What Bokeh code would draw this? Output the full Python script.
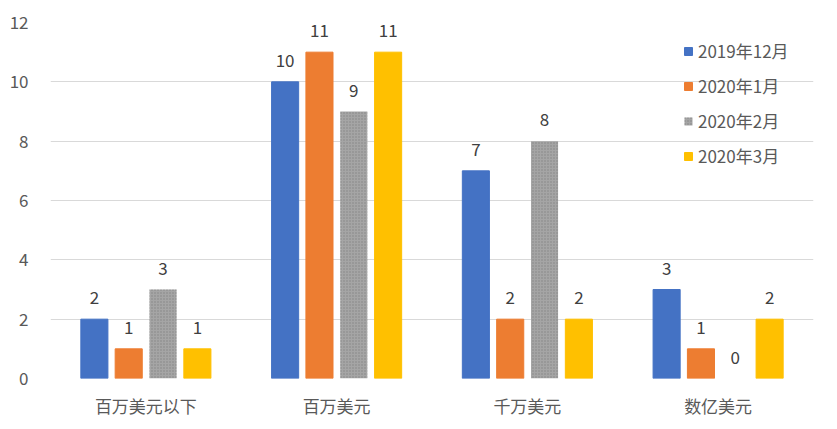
from bokeh.plotting import figure
from bokeh.models import ColumnDataSource, FactorRange, Range1d, FixedTicker, Legend, LegendItem
from bokeh.transform import dodge
from bokeh.core.properties import value
from bokeh.embed import file_html
from bokeh.resources import INLINE

categories = ["百万美元以下", "百万美元", "千万美元", "数亿美元"]
series_names = ["2019年12月", "2020年1月", "2020年2月", "2020年3月"]
s2019_12 = [2, 10, 7, 3]
s2020_01 = [1, 11, 2, 1]
s2020_02 = [3, 9, 8, 0]
s2020_03 = [1, 11, 2, 2]
y_ticks = [0, 2, 4, 6, 8, 10, 12]

colors = ["#4472c4", "#ed7d31", "#a5a5a5", "#ffc000"]
offsets = [-0.27, -0.09, 0.09, 0.27]
FONT = "Noto Sans CJK SC"

src = ColumnDataSource(dict(cat=categories, a=s2019_12, b=s2020_01, c=s2020_02, d=s2020_03,
                            la=[str(v) for v in s2019_12], lb=[str(v) for v in s2020_01],
                            lc=[str(v) for v in s2020_02], ld=[str(v) for v in s2020_03]))

p = figure(width=829, height=421, x_range=FactorRange(*categories, range_padding=0),
           y_range=Range1d(0, 12), output_backend="svg", toolbar_location=None,
           min_border_left=50, min_border_right=16, min_border_top=22, min_border_bottom=43)
p.outline_line_color = None
p.xgrid.grid_line_color = None
p.ygrid.grid_line_color = "#d9d9d9"
p.ygrid.grid_line_width = 1
p.yaxis.ticker = FixedTicker(ticks=y_ticks)
for ax in (p.xaxis[0], p.yaxis[0]):
    ax.axis_line_color = None
    ax.major_tick_line_color = None
    ax.minor_tick_line_color = None
    ax.major_label_text_font = FONT
    ax.major_label_text_font_size = "17px"
    ax.major_label_text_color = "#595959"
p.yaxis.major_label_standoff = 16
p.xaxis.major_label_standoff = 8

renderers = []
for key, lab, col, off in zip(["a", "b", "c", "d"], ["la", "lb", "lc", "ld"], colors, offsets):
    kw = dict(line_color=col)
    if key == "c":
        kw = dict(line_color=None, hatch_pattern="dot", hatch_color="#858585",
                  hatch_scale=3, hatch_weight=1)
    r = p.vbar(x=dodge("cat", off, range=p.x_range), top=key, width=0.142, bottom=0,
               fill_color=col, source=src, **kw)
    renderers.append(r)
    p.text(x=dodge("cat", off, range=p.x_range), y=key, text=lab, source=src,
           text_align="center", text_baseline="bottom", y_offset=-15,
           text_font=value(FONT), text_font_size="17px", text_color="#404040")

legend = Legend(items=[LegendItem(label=n, renderers=[r]) for n, r in zip(series_names, renderers)],
                location=(633, 210), glyph_width=10, glyph_height=10, label_standoff=5,
                label_height=20, spacing=10, padding=0, margin=0,
                label_text_font=FONT, label_text_font_size="17px", label_text_color="#595959",
                border_line_alpha=0, background_fill_alpha=0)
p.add_layout(legend)

open("out.html", "w").write(file_html(p, INLINE))
